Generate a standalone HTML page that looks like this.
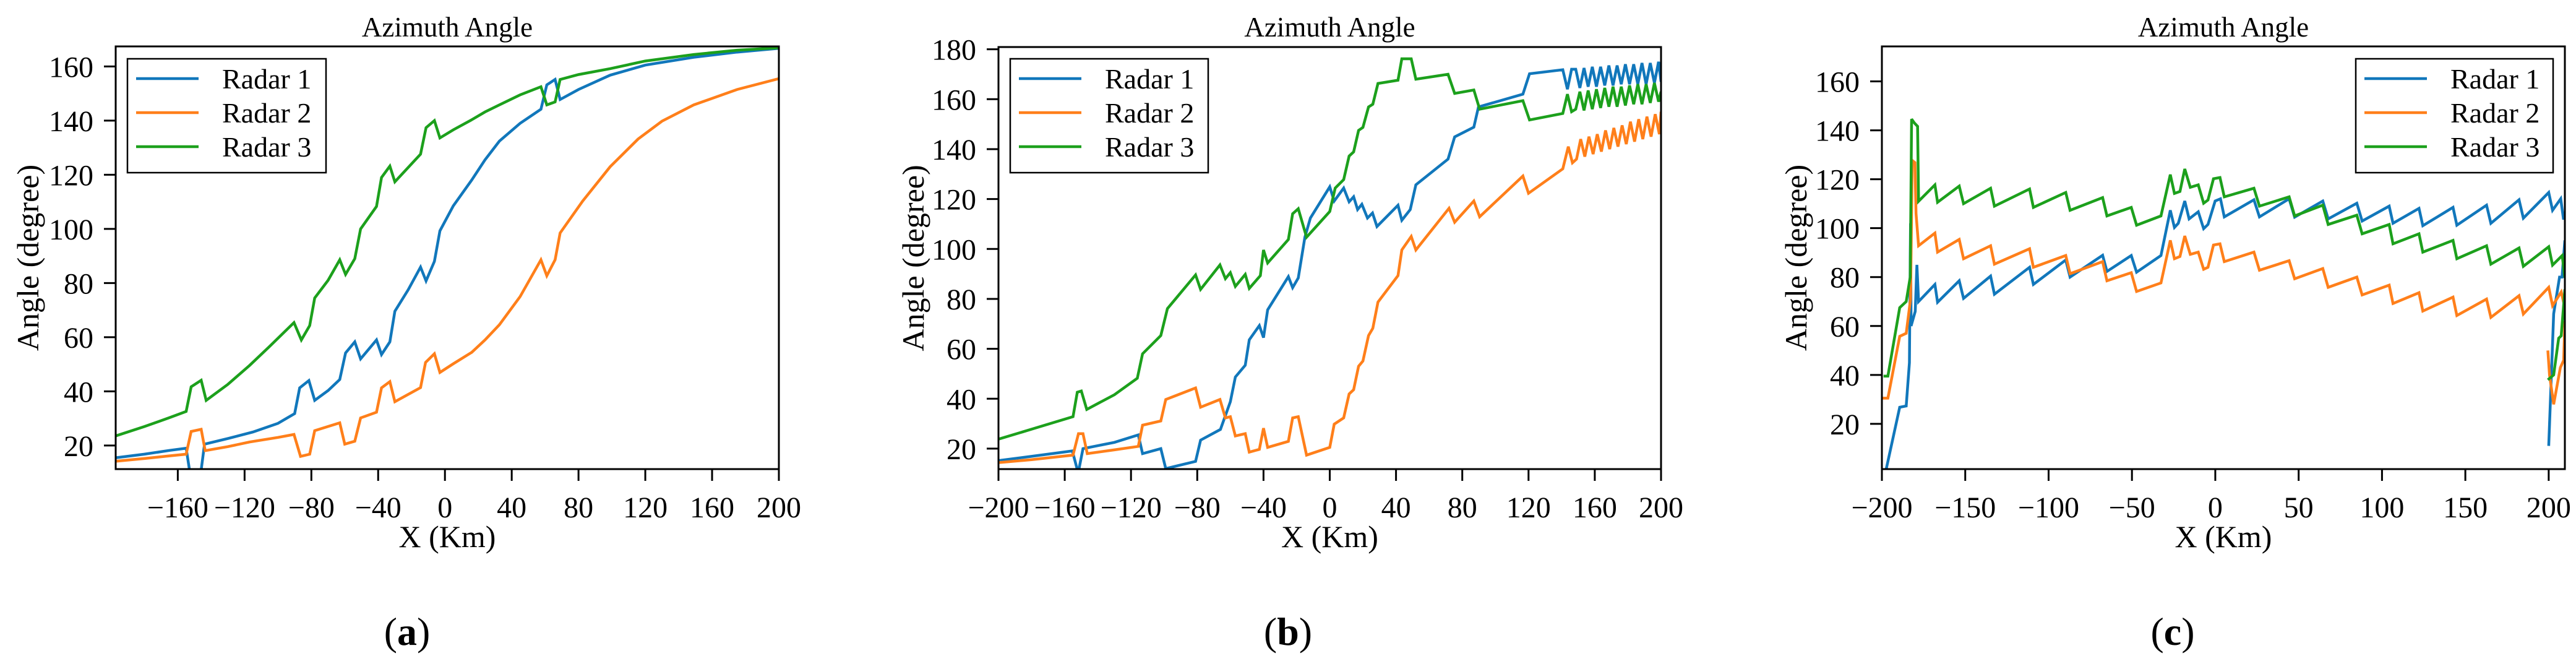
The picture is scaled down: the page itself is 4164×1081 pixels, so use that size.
<!DOCTYPE html>
<html><head><meta charset="utf-8">
<style>
html,body{margin:0;padding:0;background:#fff;}
svg{display:block;}
text{font-family:"Liberation Serif","DejaVu Serif",serif;fill:#000;}
</style></head>
<body>
<svg id="fig" width="4164" height="1081" viewBox="0 0 4164 1081" xmlns="http://www.w3.org/2000/svg"></svg>
<script>
// ---------- Panel (a) data ----------
const a_radar1_x = [-197,-180,-165,-155,-153,-150,-146,-144,-130,-115,-100,-90,-87,-81.5,-78,-70,-63,-59.5,-54,-50.5,-41,-38,-33,-30,-22,-14.6,-11.3,-6.3,-3,5,16,24,32.6,45,57.5,61,66,69,80,99,120,149,175,200];
const a_radar1_y = [15.5,16.8,18.2,19,11,11,11,20.5,22.6,25,28.2,31.8,41.3,44,36.7,40.3,44.4,54.2,58.3,52,59,53.6,58.3,69.6,77.5,85.9,80.8,88,99.3,108.5,118,125.5,132.4,139,144.2,153.2,155.2,147.8,151.5,156.8,160.5,163.4,165.3,166.7];
const a_radar2_x = [-197,-180,-165,-155,-152,-146,-143.6,-130,-117,-100,-90.4,-86.5,-81,-78,-63,-60,-54,-50.5,-41,-38,-33,-30,-14.6,-11.6,-6.3,-3,5,16,24,32.6,45,57.5,61,66,69,82.5,99,115.7,130,149,175,200];
const a_radar2_y = [14.2,15.2,16.2,16.8,25.2,26,18.1,19.6,21.3,23,24.1,16,16.8,25.5,28.4,20.5,21.6,30.2,32.3,41.3,43.6,36.2,41.4,50.7,53.9,47,50.2,54.4,59,64.6,75,88.6,82.7,88.6,98.5,110.3,123,133.2,139.8,145.8,151.5,155.5];
const a_radar3_x = [-197,-180,-165,-155,-152,-146,-143,-130,-117,-105,-90.4,-86,-81,-78,-70,-63,-59.5,-54,-50.5,-41,-38,-33,-30,-14.6,-11.3,-6.3,-3,5,16,24,32.6,45,57.5,61,66,69,80,99,120,149,175,200];
const a_radar3_y = [23.6,27,30.3,32.6,41.7,44.1,36.7,42.6,49.6,56.6,65.4,59,64.3,74.5,81,88.6,83.2,89,100,108.3,119,123.2,117.4,127.6,137.4,140,133.6,136.6,140.3,143.2,145.8,149.5,152.5,145.8,146.9,155.2,157,159.2,162,164.4,166,166.9];

// ---------- Panel (b) data ----------
const b_radar1_x = [-200,-180,-155.4,-152.5,-151.4,-149,-130,-115.6,-113,-102,-99,-81,-78,-66,-60,-57,-51,-48.6,-42.5,-40,-37.5,-25,-22.4,-19,-15,-11.7,0,2.7,8.4,11.7,14.4,16.8,19.4,22.8,25.8,28.5,41.2,43.5,48.6,52,71.4,75.4,87,89.8,116.6,120.6,140.7,143.5,146,148.5,151,153.5,156,158.5,161,163.5,166,168.5,171,173.5,176,178.5,181,183.5,186,188.5,191,193.5,196,198.5,200];
const b_radar1_y = [15.2,16.9,19.1,11.8,11.8,20,22.5,25.5,18,20,12,14.9,23.4,27.7,38.8,48.7,53.4,63.6,69.3,64.5,75.6,88.9,84.5,88.4,104.7,112.4,124.9,119.2,124.4,118.9,120.9,115.8,117.9,112.4,114.4,109,117.5,111.5,115.8,125.7,136,144.9,148.8,156.9,162,170.2,171.8,164,172,172,164.5,172.5,165,173,165,173,165.5,173.5,165.5,173.5,166,174,166,174,166,174.5,166,174.5,166.5,175,167];
const b_radar2_x = [-200,-180,-155,-151.7,-149,-146.4,-130,-115.6,-113,-102,-99,-81,-78,-66.3,-63,-60,-57,-51,-48.6,-42.5,-40,-37.5,-25,-22.4,-19,-14,0,2.7,8.4,11.7,14.4,17.4,20,23.4,26,29.1,41.2,43.5,49.2,52,72,75.4,87,90.5,116.6,120,140.7,144,146.5,149,151.5,154,156.5,159,161.5,164,166.5,169,171.5,174,176.5,179,181.5,184,186.5,189,191.5,194,196.5,199,200];
const b_radar2_y = [14.4,15.6,17.4,26,26,18,19.5,20.9,29.4,31.1,39.7,44.3,36.6,39.7,32.3,32.8,25.1,26,18.6,19.7,28.2,20.5,22.9,32.3,32.8,17.4,20.5,29.8,32.3,41.9,43.6,53,55.1,65.3,68.2,78.7,89.3,99.6,105,99.6,116.3,110.7,119.2,112.9,129.2,122.3,132.1,141,134.5,136,144,137,145,138,146,139,147.5,140,148.5,141,149.5,142,151,143,152,144,153,145,154,146,155,147,151];
const b_radar3_x = [-200,-180,-155,-152.4,-150,-146.7,-130,-116.2,-113,-102,-98,-81,-78,-66.3,-63,-60,-57,-51,-48.6,-41.9,-40,-37.5,-25,-22.4,-19,-14,0,3.3,8.4,11.7,14.4,17.4,20,23.4,26,29.1,41.2,43.5,49.2,52,71.4,75.4,87,90.5,116.6,120.6,140.7,143.5,146,148.5,151,153.5,156,158.5,161,163.5,166,168.5,171,173.5,176,178.5,181,183.5,186,188.5,191,193.5,196,198.5,200];
const b_radar3_y = [23.8,27.8,32.8,42.6,43.1,35.7,41.6,48.2,58,65.3,76.1,89.6,83.8,93.6,88.1,90.5,85,89.8,84.2,89.3,99.6,94.4,103.8,114.1,116.1,104.7,115,124.4,127.8,137.2,138.9,147.5,148.7,156.9,158,166.3,167.6,176.2,176.2,168,170,162.3,163.7,156,159.4,151.7,154.3,162,155,156,163,155.5,163.5,156,164,156.5,164.5,157,165,157,165,157.5,165.5,158,166,158,166,158.5,166.5,159,163];

// ---------- Panel (c) data ----------
const c_radar1_x = [-197.4,-189.3,-185.4,-183.5,-182.8,-182.5,-180,-179,-178,-168.2,-166.6,-153.6,-151,-134.8,-132.5,-111.4,-109.1,-89.7,-87.1,-67.6,-65,-50.4,-47.2,-32.6,-27,-24.5,-22.2,-18.3,-15.7,-10.2,-7,-4.4,-0.1,3.1,5.4,23.2,26.5,44.3,47.6,64.5,67.7,84.9,88.1,104.3,106.6,122.2,124.5,142.6,144.9,162.7,165.3,182.2,184.8,200,202.3,207.2,208.8,209.7];
const c_radar1_y = [1.5,26.8,27.3,45,102,60,66,85,70,77,69.7,78.5,71.3,80.4,73,84,77,87,80,88.9,82.3,88.8,82,88.8,107.3,100.3,102,111.1,103.8,106.7,99.8,101.5,111.1,112,104.6,111.6,104.6,112,104.5,111.1,103.8,110.2,102.9,109,102,108.1,101,108.5,101.2,109.4,102,111.6,104.1,114.6,107.3,112,104,104];
const c_radar1_tail_x = [200,203,206.5,208,209.7];
const c_radar1_tail_y = [11,65,80,80,95];
const c_radar2_x = [-200,-196.4,-189.3,-185.4,-182.8,-181.8,-180.2,-179.5,-178,-168.2,-166.6,-153.6,-151,-134.8,-132.5,-111.4,-109.1,-89.7,-87.1,-67.6,-65,-50.4,-47.2,-32.6,-27,-24.5,-21.2,-18.3,-15,-10.2,-7,-4.4,-1.1,2.8,5.4,23.2,26.5,44.3,47.6,64.5,67.7,84.9,88.1,104.3,106.6,122.2,124.5,142.6,144.9,162.7,165.3,182.2,184.8,200,202.3,207.5,209.7];
const c_radar2_y = [30.5,30.5,55.8,57,71,127.7,126.8,106,92.8,98,90.2,95.4,87.5,92.8,85.3,91.6,84,88.8,81.4,86.3,78.5,81.8,74.1,77.6,95,87.5,88.4,96.8,89.3,90.2,83.2,84,93.1,93.6,86.3,90.2,82.8,86.7,79.3,83.5,75.8,80,72.7,76.7,69.2,73.6,66.1,71.8,64.3,71,63.5,72.4,64.9,75.8,68.3,73.9,67.5];
const c_radar2_tail_x = [199.5,200.5,203,207,209,209.7];
const c_radar2_tail_y = [50,40,28,43,46,62];
const c_radar3_x = [-199,-196.4,-189.3,-185.4,-183,-182.2,-180.5,-178.6,-178,-168.2,-166.6,-153.6,-151,-134.8,-132.5,-111.4,-109.1,-89.7,-87.1,-67.6,-65,-50.4,-47.2,-32.6,-27,-24.5,-21.2,-18.3,-15,-10.2,-7,-4.4,-1.1,2.8,5.4,23.2,26.5,44.3,47.6,64.5,67.7,84.9,88.1,104.3,106.6,122.2,124.5,142.6,144.9,162.7,165.3,182.2,184.8,200,202.3,208.1,209.7];
const c_radar3_y = [39.5,39.5,67.5,70,80,144.6,143,141.6,111,117.7,110.6,117.2,110,116.3,109,116,108.5,114.6,107.3,112.5,105,108.5,101.2,105,121.9,114.2,115,124.2,116.7,117.7,110.2,111.5,120.2,120.7,112.8,116.3,109,112.8,105,109.4,101.5,105.3,97.7,101.5,93.6,97.7,90.2,95,87.5,92.8,85.3,91.9,84.4,92.4,84.9,88.8,79.7];
const c_radar3_tail_x = [199.5,203,206,207.5,209.7];
const c_radar3_tail_y = [38,40,55,56,75];

// ---------- Tick labels ----------
const a_xticks = [-160,-120,-80,-40,0,40,80,120,160,200];
const a_yticks = [20,40,60,80,100,120,140,160];
const b_xticks = [-200,-160,-120,-80,-40,0,40,80,120,160,200];
const b_yticks = [20,40,60,80,100,120,140,160,180];
const c_xticks = [-200,-150,-100,-50,0,50,100,150,200];
const c_yticks = [20,40,60,80,100,120,140,160];
const seriesNames = ["Radar 1","Radar 2","Radar 3"];

const COLORS = ["#1177bb","#ff7f1a","#1ca01c"];
const NS = "http://www.w3.org/2000/svg";
const svg = document.getElementById('fig');
function mk(tag, attrs, parent){
  const e = document.createElementNS(NS, tag);
  for (const k in attrs) e.setAttribute(k, attrs[k]);
  (parent||svg).appendChild(e);
  return e;
}
function fmt(v){ return v<0 ? "\u2212"+Math.abs(v) : String(v); }

function panel(cfg){
  const g = mk('g', {});
  
  
  const L=cfg.L,R=cfg.R,T=cfg.T,B=cfg.B;
  const sx = v => L + (v-cfg.xlim[0])/(cfg.xlim[1]-cfg.xlim[0])*(R-L);
  const sy = v => B - (v-cfg.ylim[0])/(cfg.ylim[1]-cfg.ylim[0])*(B-T);
  const cid = 'clip-'+cfg.id;
  const defs = mk('defs', {}, g);
  const cp = mk('clipPath', {id:cid}, defs);
  mk('rect', {x:L, y:T, width:R-L, height:B-T}, cp);
  // series
  const sg = mk('g', {'clip-path':'url(#'+cid+')'}, g);
  cfg.series.forEach((s)=>{
    let d = '';
    s.x.forEach((xv,i)=>{ d += (i?'L':'M') + sx(xv).toFixed(1) + ',' + sy(s.y[i]).toFixed(1); });
    const p = mk('path', {d:d, fill:'none', stroke:COLORS[s.c], 'stroke-width':4.5, 'stroke-linejoin':'miter', 'stroke-miterlimit':3}, sg);
    
    
  });
  // frame
  const fr = mk('rect', {x:L, y:T, width:R-L, height:B-T, fill:'none', stroke:'#000', 'stroke-width':3}, g);
  
  
  // x ticks
  cfg.xticks.forEach(v=>{
    const x = sx(v);
    mk('line', {x1:x, y1:B, x2:x, y2:B+19, stroke:'#000', 'stroke-width':3}, g);
    const t = mk('text', {x:x, y:836, 'text-anchor':'middle', 'font-size':48}, g);
    t.textContent = fmt(v);
    
    
  });
  cfg.yticks.forEach(v=>{
    const y = sy(v);
    mk('line', {x1:L, y1:y, x2:L-19, y2:y, stroke:'#000', 'stroke-width':3}, g);
    const t = mk('text', {x:L-36, y:y+17, 'text-anchor':'end', 'font-size':48}, g);
    t.textContent = fmt(v);
    
    
  });
  const cx = (L+R)/2;
  const title = mk('text', {x:cx, y:59, 'text-anchor':'middle', 'font-size':45}, g);
  title.textContent = 'Azimuth Angle';
  
  
  const xl = mk('text', {x:cx, y:884, 'text-anchor':'middle', 'font-size':50}, g);
  xl.textContent = 'X (Km)';
  
  
  const yl = mk('text', {x:0, y:0, 'text-anchor':'middle', 'font-size':50, transform:'translate('+(cfg.ylx+17)+','+((T+B)/2)+') rotate(-90)'}, g);
  yl.textContent = 'Angle (degree)';
  
  
  // legend
  const lg = mk('g', {}, g);
  
  
  mk('rect', {x:cfg.legX, y:95, width:cfg.legW, height:184, fill:'#fff', stroke:'#000', 'stroke-width':2.5}, lg);
  seriesNames.forEach((n,i)=>{
    const y = 127 + i*55;
    mk('line', {x1:cfg.legX+14, y1:y, x2:cfg.legX+115, y2:y, stroke:COLORS[i], 'stroke-width':4.5}, lg);
    const t = mk('text', {x:cfg.legX+153, y:y+16, 'font-size':46}, lg);
    t.textContent = n;
    
    
  });
  // caption
  const cap = mk('text', {x:cfg.capX, y:1042, 'text-anchor':'middle', 'font-size':64}, g);
  cap.innerHTML = '(<tspan font-weight="bold">'+cfg.id+'</tspan>)';
  
  
}

panel({id:'a', L:187, R:1259, T:75, B:758, xlim:[-197.2,200], ylim:[11.3,167.4],
  xticks:a_xticks, yticks:a_yticks, ylx:45, legX:206, legW:321, capX:658,
  series:[{name:'radar-1-line',c:0,x:a_radar1_x,y:a_radar1_y},{name:'radar-2-line',c:1,x:a_radar2_x,y:a_radar2_y},{name:'radar-3-line',c:2,x:a_radar3_x,y:a_radar3_y}]});
panel({id:'b', L:1614, R:2685, T:76, B:758, xlim:[-200,200], ylim:[11.8,180.9],
  xticks:b_xticks, yticks:b_yticks, ylx:1476, legX:1633, legW:320, capX:2082,
  series:[{name:'radar-1-line',c:0,x:b_radar1_x,y:b_radar1_y},{name:'radar-2-line',c:1,x:b_radar2_x,y:b_radar2_y},{name:'radar-3-line',c:2,x:b_radar3_x,y:b_radar3_y}]});
panel({id:'c', L:3042, R:4146, T:75, B:758, xlim:[-200,209.7], ylim:[1.5,174.3],
  xticks:c_xticks, yticks:c_yticks, ylx:2903, legX:3808, legW:319, capX:3512,
  series:[{name:'radar-1-line',c:0,x:c_radar1_x,y:c_radar1_y},{name:'radar-1-edge-line',c:0,x:c_radar1_tail_x,y:c_radar1_tail_y},
          {name:'radar-2-line',c:1,x:c_radar2_x,y:c_radar2_y},{name:'radar-2-edge-line',c:1,x:c_radar2_tail_x,y:c_radar2_tail_y},
          {name:'radar-3-line',c:2,x:c_radar3_x,y:c_radar3_y},{name:'radar-3-edge-line',c:2,x:c_radar3_tail_x,y:c_radar3_tail_y}]});
</script>
</body></html>
